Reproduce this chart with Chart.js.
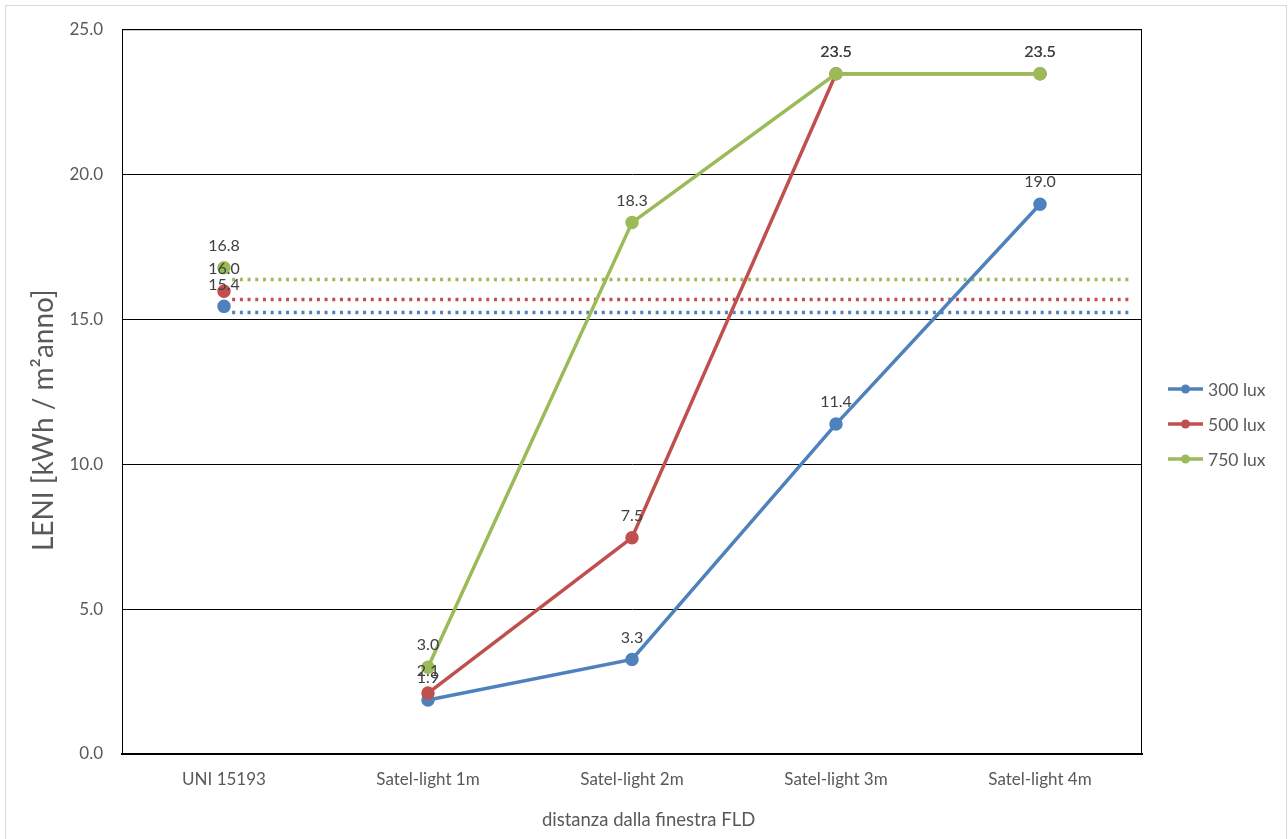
<!DOCTYPE html>
<html>
<head>
<meta charset="utf-8">
<script src="https://cdn.jsdelivr.net/npm/chart.js@4.4.1/dist/chart.umd.min.js"></script>
<style>
  html, body { margin: 0; padding: 0; background: #fff; }
  #wrap { width: 1288px; height: 839px; position: relative; }
</style>
</head>
<body>
<div id="wrap"><canvas id="leniChart" width="1288" height="839"></canvas></div>
<script>
// categories on the x axis
const categories = ['UNI 15193', 'Satel-light 1m', 'Satel-light 2m', 'Satel-light 3m', 'Satel-light 4m'];
const yTicks = [0, 5, 10, 15, 20, 25];

// LENI values per illuminance level
const lux300 = [15.44, 1.86, 3.26, 11.38, 18.96];
const lux500 = [15.96, 2.1, 7.46, 23.46, 23.46];
const lux750 = [16.77, 2.99, 18.33, 23.46, 23.46];

// dotted reference levels (UNI 15193)
const ref300 = 15.23;
const ref500 = 15.68;
const ref750 = 16.37;
const refFrom = 0.04, refTo = 4.44;

const seriesNames = ['300 lux', '500 lux', '750 lux'];
const COLORS = ['#4F81BD', '#C0504D', '#9BBB59'];
const FONT = 'Lato';
const TXT = '#595959';

const toPts = arr => arr.map((v, i) => ({ x: i, y: v }));
const refLine = v => [{ x: refFrom, y: v }, { x: refTo, y: v }];

function mainSet(label, data, color, order) {
    return {
        label, data: toPts(data), showLabels: true, order,
        borderColor: color, backgroundColor: color, pointBackgroundColor: color, pointBorderColor: color,
        borderWidth: 3.5, pointRadius: 5, pointHoverRadius: 5,
        segment: { borderColor: ctx => ctx.p0DataIndex === 0 ? 'transparent' : color }
    };
}
function refSet(label, v, color) {
    return {
        label, data: refLine(v), borderColor: color, borderWidth: 3.5, borderDash: [3, 4.7],
        borderCapStyle: 'butt', pointRadius: 0, pointHoverRadius: 0, order: 5
    };
}

// page frame + plot frame
const framePlugin = {
    id: 'frame',
    beforeDraw(chart) {
        const c = chart.ctx;
        c.save();
        c.fillStyle = '#fff';
        c.fillRect(0, 0, chart.width, chart.height);
        c.strokeStyle = '#d9d9d9';
        c.lineWidth = 1;
        c.strokeRect(5.5, 5.5, chart.width - 7, chart.height + 10);
        c.restore();
    },
    beforeDatasetsDraw(chart) {
        const { left, top, right, bottom } = chart.chartArea;
        const c = chart.ctx;
        c.save();
        c.strokeStyle = '#000';
        c.lineWidth = 1;
        c.strokeRect(left + 0.5, top + 0.5, right - left - 1, bottom - top);
        c.restore();
    }
};

// value labels above the points
const labelPlugin = {
    id: 'valueLabels',
    afterDatasetsDraw(chart) {
        const c = chart.ctx;
        c.save();
        c.font = '16px ' + FONT;
        c.fillStyle = '#404040';
        c.textAlign = 'center';
        c.textBaseline = 'middle';
        chart.data.datasets.forEach((ds, i) => {
            if (!ds.showLabels) return;
            chart.getDatasetMeta(i).data.forEach((pt, j) => {
                c.fillText(ds.data[j].y.toFixed(1), pt.x, pt.y - 22);
            });
        });
        c.restore();
    }
};

// legend on the right: line with marker
const legendPlugin = {
    id: 'sideLegend',
    afterDraw(chart) {
        const c = chart.ctx;
        c.save();
        c.font = '17.5px ' + FONT;
        c.textBaseline = 'middle';
        seriesNames.forEach((name, i) => {
            const y = 389 + i * 35;
            c.strokeStyle = COLORS[i];
            c.lineWidth = 3.5;
            c.beginPath(); c.moveTo(1168, y); c.lineTo(1203, y); c.stroke();
            c.fillStyle = COLORS[i];
            c.beginPath(); c.arc(1185.5, y, 4.5, 0, Math.PI * 2); c.fill();
            c.fillStyle = TXT;
            c.fillText(name, 1208, y + 1);
        });
        c.restore();
    }
};

new Chart(document.getElementById('leniChart').getContext('2d'), {
    type: 'line',
    data: {
        datasets: [
            refSet('ref 300', ref300, COLORS[0]),
            refSet('ref 500', ref500, COLORS[1]),
            refSet('ref 750', ref750, COLORS[2]),
            mainSet(seriesNames[0], lux300, COLORS[0], 2),
            mainSet(seriesNames[1], lux500, COLORS[1], 1),
            mainSet(seriesNames[2], lux750, COLORS[2], 0)
        ]
    },
    options: {
        responsive: false,
        animation: false,
        events: [],
        layout: { padding: { left: 5, right: 146, top: 27, bottom: 0 } },
        plugins: { legend: { display: false }, tooltip: { enabled: false } },
        scales: {
            x: {
                type: 'linear', min: -0.5, max: 4.5,
                afterBuildTicks: s => { s.ticks = categories.map((_, i) => ({ value: i })); },
                afterFit: s => { s.height = 85; },
                grid: { display: false, drawTicks: false },
                border: { color: '#000', width: 2 },
                ticks: { callback: v => categories[v] || '', color: TXT, font: { family: FONT, size: 17 }, padding: 15, maxRotation: 0, autoSkip: false },
                title: { display: true, text: '       distanza dalla finestra FLD', color: TXT, font: { family: FONT, size: 18.5 }, padding: { top: 10, bottom: 8 } }
            },
            y: {
                min: 0, max: 25,
                afterBuildTicks: s => { s.ticks = yTicks.map(v => ({ value: v })); },
                afterFit: s => { s.width = 117; },
                grid: { color: '#000', lineWidth: 1, drawTicks: false },
                border: { color: '#000', width: 1 },
                ticks: { callback: v => v.toFixed(1), color: TXT, font: { family: FONT, size: 17 }, padding: 19 },
                title: { display: true, text: 'LENI [kWh / m\u00B2anno]        ', color: TXT, font: { family: FONT, size: 28 }, padding: { top: 22, bottom: 0 } }
            }
        }
    },
    plugins: [framePlugin, labelPlugin, legendPlugin]
});
</script>
</body>
</html>
